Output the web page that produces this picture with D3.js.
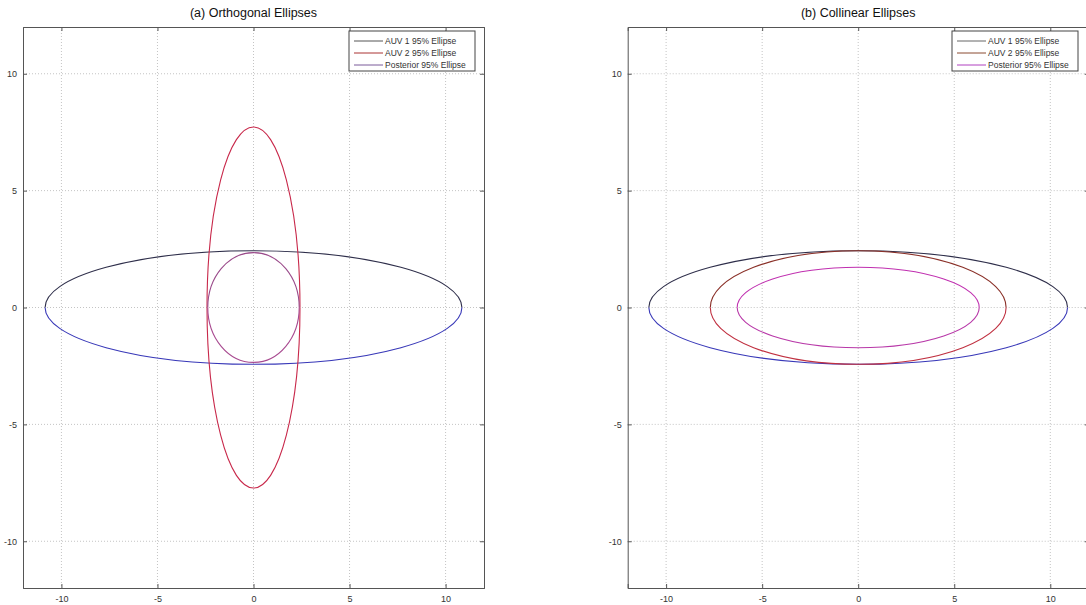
<!DOCTYPE html>
<html>
<head>
<meta charset="utf-8">
<script src="https://cdn.jsdelivr.net/npm/d3@7"></script>
<style>
  body { margin: 0; background: #fff; }
  svg { display: block; font-family: "Liberation Sans", Arial, sans-serif; }
</style>
</head>
<body>
<div id="chart"></div>
<script>
// data: 95% ellipse semi-axes (x, y), centred at 0,0
var names = ["AUV 1 95% Ellipse", "AUV 2 95% Ellipse", "Posterior 95% Ellipse"];
var orthoRx = [10.85, 2.42, 2.38];
var orthoRy = [2.43, 7.73, 2.35];
var collinRx = [10.9, 7.7, 6.3];
var collinRy = [2.43, 2.43, 1.72];
var ticks = [-10, -5, 0, 5, 10];
var titles = ["(a) Orthogonal Ellipses", "(b) Collinear Ellipses"];

var W = 1086, H = 605;
var svg = d3.select("#chart").append("svg")
    .attr("width", W)
    .attr("height", H);

// top / bottom half colours per ellipse (jpeg-ish tinting in the original)
var colorsA = [["#2e2e4a", "#3838b8"], ["#c8284a", "#c8284a"], ["#9a4a8a", "#a84a90"]];
var colorsB = [["#2e2e4a", "#3838b8"], ["#8a3028", "#c03040"], ["#c030b0", "#b838a8"]];
var legendA = ["#555", "#a33", "#7a5a9a"];
var legendB = ["#666", "#8a4a30", "#b040c0"];

// plain hyphen minus like the original
var fmt = function (d) { return String(d); };

function panel(left, rx, ry, cols, legCols, title, legX) {
    var x = d3.scaleLinear().domain([-12, 12]).range([left, left + 461]);
    var y = d3.scaleLinear().domain([-12, 12]).range([588, 27]);
    var g = svg.append("g");

    // grid
    g.selectAll(".gx").data(ticks).enter().append("line")
        .attr("x1", d => x(d)).attr("x2", d => x(d))
        .attr("y1", y(12)).attr("y2", y(-12))
        .attr("stroke", "#c4c4c4").attr("stroke-dasharray", "1,2");
    g.selectAll(".gy").data(ticks).enter().append("line")
        .attr("y1", d => y(d)).attr("y2", d => y(d))
        .attr("x1", x(-12)).attr("x2", x(12))
        .attr("stroke", "#c4c4c4").attr("stroke-dasharray", "1,2");

    // ellipses, drawn as two half arcs
    rx.forEach(function (r, i) {
        var cx = x(0), cy = y(0);
        var a = x(r) - x(0), b = y(0) - y(ry[i]);
        g.append("path")
            .attr("d", "M" + (cx - a) + "," + cy + " A" + a + "," + b + " 0 0 1 " + (cx + a) + "," + cy)
            .attr("fill", "none").attr("stroke", cols[i][0]).attr("stroke-width", 1.1);
        g.append("path")
            .attr("d", "M" + (cx + a) + "," + cy + " A" + a + "," + b + " 0 0 1 " + (cx - a) + "," + cy)
            .attr("fill", "none").attr("stroke", cols[i][1]).attr("stroke-width", 1.1);
    });

    // axes
    g.append("g").attr("transform", "translate(0," + y(-12) + ")")
        .call(d3.axisBottom(x).tickValues(ticks).tickSize(-4).tickPadding(8).tickFormat(fmt));
    g.append("g").attr("transform", "translate(" + x(-12) + ",0)")
        .call(d3.axisLeft(y).tickValues(ticks).tickSize(-4).tickPadding(6).tickFormat(fmt));
    g.append("g").attr("transform", "translate(0," + y(12) + ")")
        .call(d3.axisTop(x).tickValues(ticks).tickSize(-4).tickFormat(""));
    g.append("g").attr("transform", "translate(" + x(12) + ",0)")
        .call(d3.axisRight(y).tickValues(ticks).tickSize(-4).tickFormat(""));
    g.selectAll(".domain").attr("stroke", "#555");
    g.selectAll(".tick line").attr("stroke", "#555");
    g.selectAll(".tick text").attr("fill", "#333").style("font-size", "9px");

    // title
    g.append("text").attr("x", x(0)).attr("y", 17)
        .attr("text-anchor", "middle").attr("fill", "#111")
        .style("font-size", "12.5px").text(title);

    // legend
    var lg = g.append("g").attr("transform", "translate(" + legX + ",31)");
    lg.append("rect").attr("width", 126).attr("height", 40)
        .attr("fill", "#fff").attr("stroke", "#444");
    names.forEach(function (n, i) {
        lg.append("line").attr("x1", 5).attr("x2", 34)
            .attr("y1", 10 + i * 12).attr("y2", 10 + i * 12)
            .attr("stroke", legCols[i]);
        lg.append("text").attr("x", 36).attr("y", 13 + i * 12)
            .attr("fill", "#333").style("font-size", "8.5px").text(n);
    });
}

panel(23, orthoRx, orthoRy, colorsA, legendA, titles[0], 349);
panel(627.7, collinRx, collinRy, colorsB, legendB, titles[1], 952);
</script>
</body>
</html>
